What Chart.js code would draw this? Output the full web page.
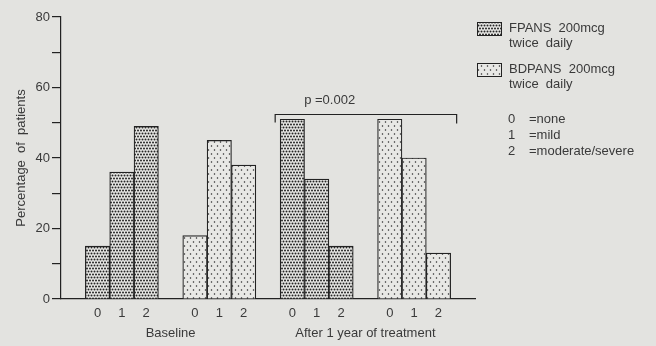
<!DOCTYPE html>
<html>
<head>
<meta charset="utf-8">
<script src="https://cdn.jsdelivr.net/npm/chart.js@4.4.0/dist/chart.umd.min.js"></script>
<style>
  html, body { margin: 0; padding: 0; background: #e3e3e0; }
  #wrap { position: relative; width: 656px; height: 346px; }
</style>
</head>
<body>
<div id="wrap"><canvas id="symptomChart"></canvas></div>
<script>
// градации симптомов и подписи
var grades = ['0', '1', '2'];
var gradeNames = ['none', 'mild', 'moderate/severe'];
var periods = ['Baseline', 'After 1 year of treatment'];
var treatments = ['FPANS  200mcg', 'BDPANS  200mcg'];
var dosing = ['twice  daily', 'twice  daily'];

// % пациентов по градациям 0, 1, 2
var fpansBaseline = [15, 36, 49];
var bdpansBaseline = [18, 45, 38];
var fpansAfter = [51, 34, 15];
var bdpansAfter = [51, 40, 13];

var yTicks = [0, 20, 40, 60, 80];
var pText = 'p =0.002';
var pLevel = 52.5;

var textColor = '#3a3a3a';
var lineColor = '#222';
var fontFamily = '"Liberation Sans", Arial, sans-serif';

Chart.defaults.font.family = fontFamily;
Chart.defaults.font.size = 13;
Chart.defaults.color = textColor;

// категории: пустой слот между группами
var gap = [null];
var none3 = [null, null, null];
var labels = [''].concat(grades, [''], grades, [''], grades, [''], grades, ['']);
var fpansData = gap.concat(fpansBaseline, gap, none3, gap, fpansAfter, gap, none3, gap);
var bdpansData = gap.concat(none3, gap, bdpansBaseline, gap, none3, gap, bdpansAfter, gap);

var canvas = document.getElementById('symptomChart');
var ctx = canvas.getContext('2d');

// точечные штриховки
function makePattern(w, h, dots, r) {
    var c = document.createElement('canvas');
    c.width = w;
    c.height = h;
    var g = c.getContext('2d');
    g.fillStyle = '#e8e8e5';
    g.fillRect(0, 0, w, h);
    g.fillStyle = '#262626';
    dots.forEach(function(d) {
        g.beginPath();
        g.arc(d[0], d[1], r, 0, Math.PI * 2);
        g.fill();
    });
    return ctx.createPattern(c, 'repeat');
}

var densePattern = makePattern(6, 6, [[1.5, 1.5], [4.5, 1.5], [0, 4.5], [3, 4.5], [6, 4.5]], 1.0);
var sparsePattern = makePattern(6, 8, [[1.5, 2], [4.5, 6]], 0.75);
var patterns = [densePattern, sparsePattern];

var notesPlugin = {
    id: 'notes',
    afterDraw: function(chart) {
        var c = chart.ctx;
        var x = chart.scales.x;
        var y = chart.scales.y;
        var slot = x.getPixelForValue(1) - x.getPixelForValue(0);

        c.save();
        c.fillStyle = textColor;
        c.font = '13px ' + fontFamily;
        c.textBaseline = 'middle';

        // подписи периодов
        c.textAlign = 'center';
        c.fillText(periods[0], x.getPixelForValue(4), y.bottom + 34);
        c.fillText(periods[1], x.getPixelForValue(12), y.bottom + 34);

        // скобка p
        var bl = x.getPixelForValue(9) - slot / 2 - 5;
        var br = x.getPixelForValue(15) + slot / 2 + 6;
        var by = Math.round(y.getPixelForValue(pLevel)) + 0.5;
        c.strokeStyle = lineColor;
        c.lineWidth = 1.2;
        c.beginPath();
        c.moveTo(bl, by + 8);
        c.lineTo(bl, by);
        c.lineTo(br, by);
        c.lineTo(br, by + 9);
        c.stroke();
        c.textAlign = 'left';
        c.fillText(pText, bl + 29, by - 14);

        // легенда
        var lx = 477;
        var ly = [22, 63];
        treatments.forEach(function(t, i) {
            c.fillStyle = patterns[i];
            c.fillRect(lx, ly[i], 25, 14);
            c.lineWidth = 1;
            c.strokeRect(lx + 0.5, ly[i] + 0.5, 24, 13);
            c.fillStyle = textColor;
            c.fillText(t, 509, ly[i] + 6);
            c.fillText(dosing[i], 509, ly[i] + 21);
        });
        grades.forEach(function(g, i) {
            c.fillText(g, 508, 119 + 16 * i);
            c.fillText('=' + gradeNames[i], 529, 119 + 16 * i);
        });
        c.restore();
    }
};

var symptomChart = new Chart(ctx, {
    type: 'bar',
    data: {
        labels: labels,
        datasets: [{
            label: treatments[0],
            data: fpansData,
            backgroundColor: densePattern,
            borderColor: lineColor,
            borderWidth: 1.2,
            barPercentage: 1,
            categoryPercentage: 1
        }, {
            label: treatments[1],
            data: bdpansData,
            backgroundColor: sparsePattern,
            borderColor: lineColor,
            borderWidth: 1.2,
            barPercentage: 1,
            categoryPercentage: 1
        }]
    },
    options: {
        responsive: true,
        maintainAspectRatio: false,
        animation: false,
        layout: {
            padding: { left: 0, right: 181, top: 17, bottom: 0 }
        },
        plugins: {
            legend: { display: false },
            tooltip: { enabled: false }
        },
        scales: {
            x: {
                stacked: true,
                grid: { display: false, drawTicks: false },
                border: { display: true, color: lineColor, width: 1.2 },
                ticks: { padding: 7, color: textColor, maxRotation: 0, autoSkip: false },
                afterFit: function(scale) { scale.height = 47; }
            },
            y: {
                stacked: true,
                min: 0,
                max: 80,
                ticks: {
                    stepSize: 10,
                    padding: 2,
                    color: textColor,
                    callback: function(v) { return yTicks.indexOf(v) >= 0 ? v : ''; }
                },
                grid: { drawOnChartArea: false, drawTicks: true, tickLength: 9, color: lineColor, lineWidth: 1.2 },
                border: { display: true, color: lineColor, width: 1.2 },
                title: {
                    display: true,
                    text: 'Percentage  of  patients',
                    color: textColor,
                    font: { size: 13 },
                    padding: { top: 14, bottom: 0 }
                },
                afterFit: function(scale) { scale.width = 61; }
            }
        }
    },
    plugins: [notesPlugin]
});
</script>
</body>
</html>
